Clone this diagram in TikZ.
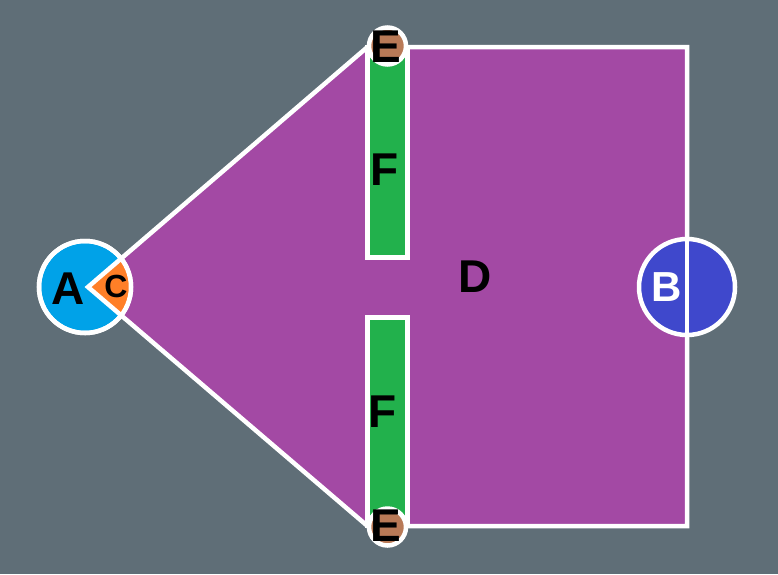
\documentclass[tikz,border=0pt]{standalone}
\usepackage{fontspec}
\setmainfont{Liberation Sans}
\definecolor{bgc}{RGB}{95,110,119}
\definecolor{purp}{RGB}{163,73,164}
\definecolor{grn}{RGB}{34,177,76}
\definecolor{skyb}{RGB}{0,162,232}
\definecolor{orng}{RGB}{255,127,39}
\definecolor{brwn}{RGB}{185,122,87}
\definecolor{indg}{RGB}{63,72,204}
\tikzset{
  wline/.style={draw=white,line width=4.5pt,line join=miter},
  lbl/.style={font=\fontsize{46}{46}\selectfont\bfseries,text=black,inner sep=0pt},
  circA/.style={circle,fill=skyb,wline,minimum size=92pt,inner sep=0pt},
  circB/.style={circle,fill=indg,wline,minimum size=96pt,inner sep=0pt},
  circE/.style={circle,fill=brwn,wline,minimum size=37pt,inner sep=0pt},
  fbox/.style={fill=grn,wline}
}
\begin{document}
\begin{tikzpicture}[x=1pt,y=-1pt]
\fill[bgc] (0,0) rectangle (778,574);
\useasboundingbox (0,0) rectangle (778,574);
% key points
\coordinate (apex) at (88,287);
\coordinate (tl) at (367.5,47);
\coordinate (tr) at (687,47);
\coordinate (br) at (687,526);
\coordinate (bl) at (367.5,526);
% region D
\path[fill=purp,wline] (apex) -- (tl) -- (tr) -- (br) -- (bl) -- cycle;
% circle A with wedge C
\node[circA] (A) at (85,287) {};
\begin{scope}
  \clip (85,287) circle (46pt);
  \fill[orng] (apex) -- (tl) -- (bl) -- cycle;
  \draw[wline] (tl) -- (apex) -- (bl);
\end{scope}
\draw[wline] (85,287) circle (46pt);
% F bars
\path[fbox] (367.5,47) rectangle (407.5,257.5);
\path[fbox] (367.5,317.5) rectangle (407.5,526);
% B circle
\node[circB] (B) at (687,287) {};
\draw[wline] (tr) -- (br);
% E circles
\node[circE] (E1) at (387.5,46) {};
\node[circE] (E2) at (387.5,527) {};
% labels
\node[lbl] (lA) at (68,289) {A};
\node[lbl,font=\fontsize{32}{32}\selectfont\bfseries] (lC) at (116,286) {C};
\node[lbl] (lD) at (475,277) {D};
\node[lbl,text=white,font=\fontsize{42}{42}\selectfont\bfseries] (lB) at (667,287) {B};
\node[lbl] (lF1) at (385,170) {F};
\node[lbl] (lF2) at (383,412) {F};
\node[lbl] (lE1) at (386,47) {E};
\node[lbl] (lE2) at (386,526) {E};
\end{tikzpicture}
\end{document}
